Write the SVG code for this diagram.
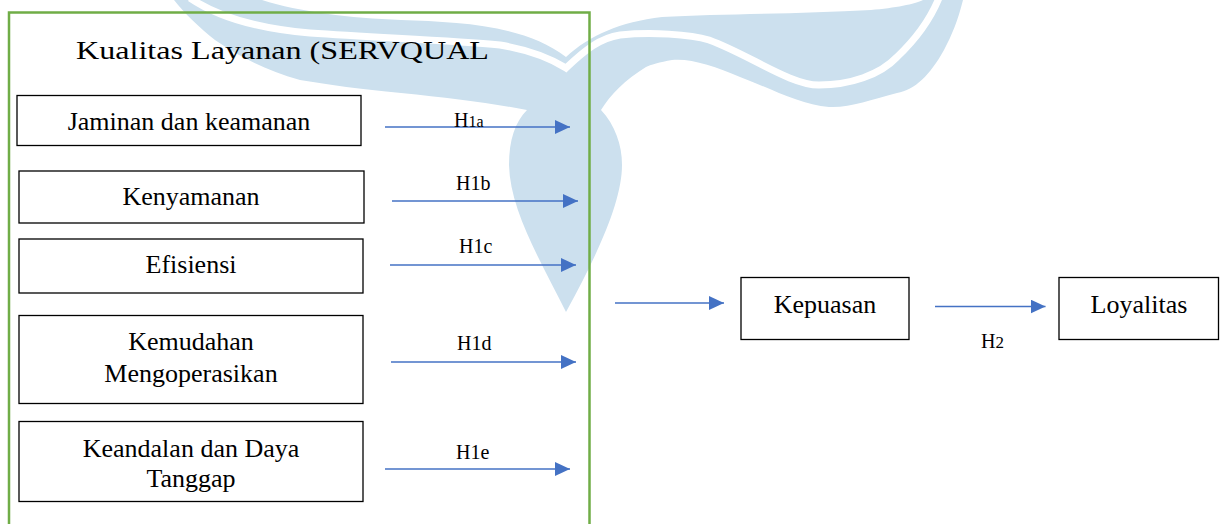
<svg xmlns="http://www.w3.org/2000/svg" width="1221" height="524" viewBox="0 0 1221 524">
<defs>
<style>
.box{fill:none;stroke:#000;stroke-width:1.3}
.c{stroke:#4472C4;stroke-width:1.4;fill:none;marker-end:url(#ah)}
</style>
<marker id="ah" markerUnits="userSpaceOnUse" markerWidth="16" markerHeight="16" refX="15" refY="7" orient="auto">
<path d="M0,0 L15,7 L0,14 Z" fill="#4472C4"/>
</marker>
</defs>
<rect width="1221" height="524" fill="#fff"/>
<g id="watermark">
<path fill="#CCE0EE" d="M262,0 C300,12 350,18 401,20 C460,22 525,25 566,57 C590,35 620,22 662,17 C720,14 800,14 871,10 C895,8 915,4 923,0 L963,0 C958,20 952,35 944,50 C930,75 915,90 897,93 C870,100 850,108 829,107 C800,105 770,88 740,77 C715,66 690,58 672,60 C660,62 650,65 646,67 C625,80 610,95 601,110 C615,125 622,145 622,165 C622,200 600,250 566,312 C540,260 510,210 509,165 C509,140 515,122 527,110 C490,103 450,98 401,93 C360,89 330,85 300,80 C265,70 240,57 215,40 C200,28 185,14 174,0 Z"/>
<path fill="none" stroke="#fff" stroke-width="7" d="M190,-2 C215,15 250,28 310,33 C380,38 450,40 500,45 C530,50 550,58 566,68 C585,50 600,38 620,35 C650,32 690,34 709,40 C750,55 790,85 819,85 C850,85 880,75 897,57 C915,40 930,20 939,-2"/>
</g>
<g font-family="'Liberation Serif', serif" fill="#000">
<g id="frame">
<path d="M9,524 V12.5 H589.5 V524" fill="none" stroke="#70AD47" stroke-width="2.5"/>
<text x="76" y="59" font-size="25" textLength="413" lengthAdjust="spacingAndGlyphs">Kualitas Layanan (SERVQUAL</text>
</g>
<g font-size="26" text-anchor="middle">
<g id="n1"><rect class="box" x="17" y="95.5" width="344" height="50"/><text x="189" y="129.5">Jaminan dan keamanan</text></g>
<g id="n2"><rect class="box" x="19" y="171" width="345" height="52"/><text x="191" y="205">Kenyamanan</text></g>
<g id="n3"><rect class="box" x="19" y="239" width="344" height="54"/><text x="191" y="273">Efisiensi</text></g>
<g id="n4"><rect class="box" x="19" y="315.5" width="344" height="88"/><text x="191" y="350">Kemudahan</text><text x="191" y="381.5">Mengoperasikan</text></g>
<g id="n5"><rect class="box" x="19" y="421.5" width="344" height="80"/><text x="191" y="456.5">Keandalan dan Daya</text><text x="191" y="487">Tanggap</text></g>
<g id="n6"><rect class="box" x="741" y="277.5" width="168" height="62"/><text x="825" y="313">Kepuasan</text></g>
<g id="n7"><rect class="box" x="1059" y="277.5" width="159.5" height="62"/><text x="1139" y="313">Loyalitas</text></g>
</g>
<g id="connectors" font-size="20">
<line class="c" x1="385" y1="127" x2="570" y2="127"/>
<line class="c" x1="392" y1="201" x2="578" y2="201"/>
<line class="c" x1="390" y1="265" x2="576" y2="265"/>
<line class="c" x1="391" y1="362" x2="576" y2="362"/>
<line class="c" x1="385" y1="469" x2="570" y2="469"/>
<line class="c" x1="615" y1="303" x2="724" y2="303"/>
<line class="c" x1="935" y1="306.5" x2="1045.5" y2="306.5"/>
<text x="454" y="127">H<tspan font-size="16">1a</tspan></text>
<text x="456" y="190">H1b</text>
<text x="459" y="253">H1c</text>
<text x="457" y="350">H1d</text>
<text x="456" y="459">H1e</text>
<text x="981" y="348">H<tspan font-size="17">2</tspan></text>
</g>
</g>
</svg>
